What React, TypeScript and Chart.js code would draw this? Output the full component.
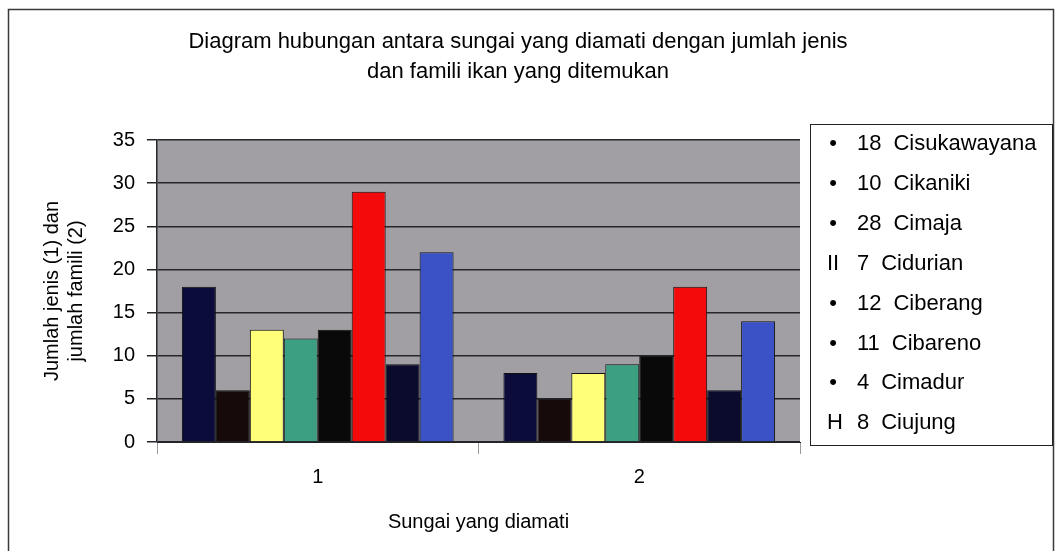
import React, { useEffect, useRef } from 'react';
import { Chart, registerables } from 'chart.js';

Chart.register(...registerables);

// ---- data ----
const categories = ['1', '2'];
const riverNames = ['Cisukawayana', 'Cikaniki', 'Cimaja', 'Cidurian', 'Ciberang', 'Cibareno', 'Cimadur', 'Ciujung'];
const legendMarkers = ['•', '•', '•', 'II', '•', '•', '•', 'H'];
const legendNumbers = ['18', '10', '28', '7', '12', '11', '4', '8'];

const cisukawayana = [18, 8];
const cikaniki = [6, 5];
const cimaja = [13, 8];
const cidurian = [12, 9];
const ciberang = [13, 10];
const cibareno = [29, 18];
const cimadur = [9, 6];
const ciujung = [22, 14];
const seriesValues = [cisukawayana, cikaniki, cimaja, cidurian, ciberang, cibareno, cimadur, ciujung];

const barColors = ['#0c0c3c', '#170a0a', '#ffff78', '#3c9f82', '#090909', '#f40a0a', '#0b0b2e', '#3a52c6'];

const yMin = 0;
const yMax = 35;
const yStep = 5;

const titleLines = [
  'Diagram hubungan antara sungai yang diamati dengan jumlah jenis',
  'dan famili ikan yang ditemukan',
];
const yTitleLines = ['Jumlah jenis (1) dan', 'jumlah famili (2)'];
const xTitle = 'Sungai yang diamati';

const FONT = 'Arial, "Liberation Sans", sans-serif';

export default function App() {
  const canvasRef = useRef<HTMLCanvasElement | null>(null);

  useEffect(() => {
    const canvas = canvasRef.current;
    if (!canvas) return;

    const decorPlugin = {
      id: 'decor',
      beforeDraw(chart: any) {
        const { ctx, chartArea } = chart;
        ctx.save();
        ctx.fillStyle = '#ffffff';
        ctx.fillRect(0, 0, chart.width, chart.height);
        ctx.fillStyle = '#a19fa3';
        ctx.fillRect(chartArea.left, chartArea.top, chartArea.right - chartArea.left, chartArea.bottom - chartArea.top);
        ctx.restore();
      },
      afterDraw(chart: any) {
        const { ctx } = chart;
        ctx.save();
        // outer frame
        ctx.strokeStyle = '#3a3a3a';
        ctx.lineWidth = 1.5;
        ctx.strokeRect(8.5, 9.5, 1045, 600);

        // title
        ctx.fillStyle = '#000';
        ctx.font = `22px ${FONT}`;
        ctx.textAlign = 'center';
        ctx.textBaseline = 'middle';
        ctx.fillText(titleLines[0], 518, 42);
        ctx.fillText(titleLines[1], 518, 72);

        // legend box
        ctx.strokeStyle = '#222';
        ctx.lineWidth = 1;
        ctx.strokeRect(810.5, 124.5, 242, 321);
        ctx.font = `22px ${FONT}`;
        riverNames.forEach((name, i) => {
          const y = 144 + i * 39.9;
          const marker = legendMarkers[i];
          ctx.fillStyle = '#000';
          if (marker === '•') {
            ctx.textAlign = 'center';
            ctx.fillText(marker, 833, y);
          } else {
            ctx.textAlign = 'left';
            ctx.fillText(marker, 827, y);
          }
          ctx.textAlign = 'left';
          const num = legendNumbers[i];
          ctx.fillText(num, 857, y);
          const w = ctx.measureText(num).width;
          ctx.fillText(name, 857 + w + 12, y);
        });
        ctx.restore();
      },
    };

    const chart = new Chart(canvas, {
      type: 'bar',
      data: {
        labels: categories,
        datasets: riverNames.map((name, i) => ({
          label: name,
          data: seriesValues[i],
          backgroundColor: barColors[i],
          borderColor: '#111111',
          borderWidth: 1,
          categoryPercentage: 0.845,
          barPercentage: 1,
        })),
      },
      options: {
        animation: false,
        responsive: false,
        devicePixelRatio: 1,
        layout: { padding: { left: 0, top: 140, right: 256, bottom: 0 } },
        plugins: {
          legend: { display: false },
          title: { display: false },
          tooltip: { enabled: false },
        },
        scales: {
          x: {
            grid: { offset: true, drawOnChartArea: false, color: '#9a9a9a', tickLength: 12 },
            border: { display: true, color: '#222', width: 1 },
            ticks: { color: '#000', font: { family: FONT, size: 20 }, padding: 11 },
            title: {
              display: true,
              text: xTitle,
              color: '#000',
              font: { family: FONT, size: 20, lineHeight: 1.2 },
              padding: { top: 0, bottom: 17 },
            },
            afterFit: (scale: any) => {
              scale.height = 109;
            },
          },
          y: {
            min: yMin,
            max: yMax,
            ticks: { stepSize: yStep, color: '#000', font: { family: FONT, size: 20 }, padding: 12 },
            grid: { color: '#26262c', lineWidth: 1.5, tickLength: 10 },
            border: { display: true, color: '#26262c', width: 1.5 },
            title: {
              display: true,
              text: yTitleLines,
              color: '#000',
              font: { family: FONT, size: 20, lineHeight: 1.2 },
              padding: { top: 40, bottom: 0 },
            },
            afterFit: (scale: any) => {
              scale.width = 157;
            },
          },
        },
      },
      plugins: [decorPlugin],
    });

    return () => {
      chart.destroy();
    };
  }, []);

  return (
    <div style={{ position: 'fixed', left: 0, top: 0, width: 1056, height: 551, background: '#fff' }}>
      <canvas ref={canvasRef} width={1056} height={551} style={{ display: 'block' }} />
    </div>
  );
}
